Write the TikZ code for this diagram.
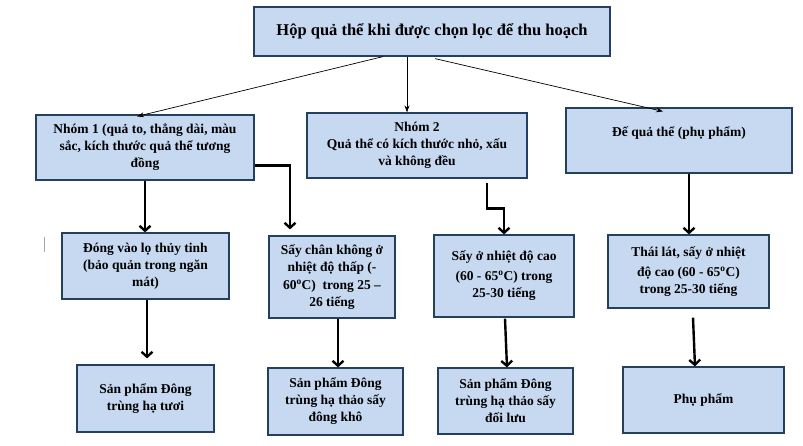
\documentclass[tikz,border=0pt]{standalone}
\usepackage{fontspec}
\setmainfont{Liberation Serif}
\usetikzlibrary{arrows.meta}
\definecolor{boxfill}{HTML}{C6D9F1}
\definecolor{boxline}{HTML}{24405F}
\begin{document}
\begin{tikzpicture}[x=1pt, y=-1pt, font=\bfseries\fontsize{13.5}{17}\selectfont]
\tikzstyle{box}=[draw=boxline, line width=1.2pt, fill=boxfill, align=center, inner sep=1pt]
\tikzstyle{thinarr}=[-{Stealth[length=7pt,width=5pt]}, line width=0.7pt]
\tikzstyle{thickarr}=[-{Straight Barb[length=5pt,width=11pt]}, line width=2.4pt]
\useasboundingbox (0,0) rectangle (803,445);
    % top
    \node [box, minimum width=356pt, minimum height=49pt, font=\bfseries\fontsize{16.5}{19}\selectfont] (h) at (432,31.5) {Hộp quả thể khi được chọn lọc để thu hoạch};
    % groups
    \node [box, minimum width=218pt, minimum height=65pt] (n1) at (145,147.5) {Nhóm 1 (quả to, thẳng dài, màu\\ sắc, kích thước quả thể tương\\ đồng};
    \node [box, minimum width=220pt, minimum height=65pt] (n2) at (417,145.5) {Nhóm 2\\ Quả thể có kích thước nhỏ, xấu\\ và không đều};
    \node [box, minimum width=226pt, minimum height=65pt] (d) at (679,140.5) {Đế quả thể (phụ phẩm)\\ ~};
    % processing
    \node [box, minimum width=167pt, minimum height=66pt] (a) at (145.5,266) {Đóng vào lọ thủy tinh\\ (bảo quản trong ngăn\\ mát)};
    \node [box, minimum width=126pt, minimum height=82pt] (b) at (332,277) {Sấy chân không ở\\ nhiệt độ thấp (-\\[1pt] 60\textsuperscript{o}C)\ \ trong 25 –\\ 26 tiếng};
    \node [box, minimum width=140pt, minimum height=82pt] (c) at (504,276) {Sấy ở nhiệt độ cao\\[3pt] (60 - 65\textsuperscript{o}C) trong\\ 25-30 tiếng};
    \node [box, minimum width=161pt, minimum height=73pt] (e) at (688.5,271.5) {Thái lát, sấy ở nhiệt\\[3pt] độ cao (60 - 65\textsuperscript{o}C)\\ trong 25-30 tiếng};
    % products
    \node [box, minimum width=137pt, minimum height=67pt] (p) at (145.5,398.5) {Sản phẩm Đông\\ trùng hạ tươi};
    \node [box, minimum width=135pt, minimum height=67pt] (q) at (335.5,401.5) {Sản phẩm Đông\\ trùng hạ thảo sấy\\ đông khô};
    \node [box, minimum width=135pt, minimum height=66pt] (r) at (505.5,401) {Sản phẩm Đông\\ trùng hạ thảo sấy\\ đối lưu};
    \node [box, minimum width=161pt, minimum height=66pt] (s) at (703.5,400) {Phụ phẩm};
    % arrows
    \draw [thinarr] ([xshift=-49pt]h.south) -- ([xshift=-8pt,yshift=-2pt]n1.north);
    \draw [thinarr] ([xshift=-25pt]h.south) -- ([xshift=-25pt]h.south |- n2.north);
    \draw [thinarr] ([xshift=3pt,yshift=-2pt]h.south) -- ([xshift=-16pt,yshift=-4pt]d.north);
    \draw [thickarr] (n1.south) -- (n1.south |- a.north);
    \draw [thickarr, shorten >=6pt] ([yshift=-18pt]n1.east) -| ([xshift=-42pt]b.north);
    \draw [thickarr] ([xshift=70pt,yshift=-4pt]n2.south) -- ++(0,26) -| (c.north);
    \draw [thickarr] ([xshift=10pt]d.south) -- ([xshift=10pt]d.south |- e.north);
    \draw [thickarr, shorten >=6pt] ([xshift=1.5pt]a.south) -- ([xshift=1.5pt]a.south |- p.north);
    \draw [thickarr] ([xshift=6pt]b.south) -- ([xshift=6pt]b.south |- q.north);
    \draw [thickarr] ([xshift=1pt,yshift=-1pt]c.south) -- ([xshift=1.5pt]r.north);
    \draw [thickarr] ([xshift=4.5pt,yshift=-9pt]e.south) -- ([xshift=-8.5pt]s.north);
    \draw [gray!70, line width=0.6pt] (44,237) -- (44,252);
\end{tikzpicture}
\end{document}
